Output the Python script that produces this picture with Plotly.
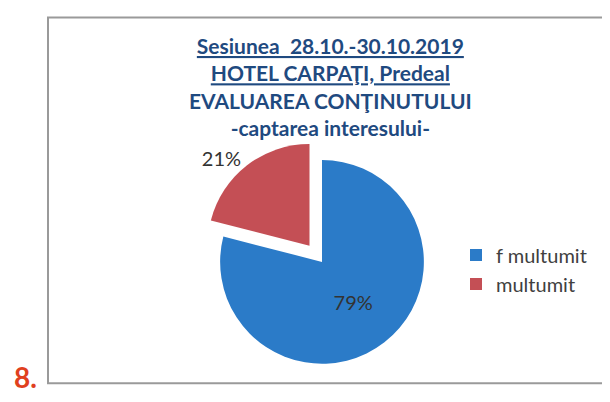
import plotly.graph_objects as go

labels = ["f multumit", "multumit"]
values = [79, 21]
colors = ["#2B7BC8", "#C44F55"]
pulls = [0, 0.2]
text_positions = ["inside", "outside"]

title_lines = [
    "<u>Sesiunea  28.10.-30.10.2019</u>",
    "<u>HOTEL CARPAŢI, Predeal</u>",
    "EVALUAREA CONŢINUTULUI",
    "-captarea interesului-",
]

W, H = 610, 402

fig = go.Figure()
fig.add_trace(go.Pie(
    labels=labels,
    values=values,
    sort=False,
    direction="clockwise",
    rotation=0,
    pull=pulls,
    marker=dict(colors=colors, line=dict(width=0)),
    textinfo="percent",
    textposition=text_positions,
    insidetextorientation="horizontal",
    textfont=dict(family="Lato", size=20, color="#333333"),
    domain=dict(x=[180 / W, 448 / W], y=[2 / H, 262 / H]),
    showlegend=True,
))

fig.add_annotation(
    text="<b>" + "<br>".join(title_lines) + "</b>",
    xref="paper", yref="paper", x=322 / W, y=(H - 84) / H,
    xanchor="center", yanchor="middle", showarrow=False,
    font=dict(family="Lato", size=21, color="#1F4A80"),
    align="center",
)

fig.add_annotation(
    text="<b>8.</b>",
    xref="paper", yref="paper", x=4 / W, y=(H - 392) / H,
    xanchor="left", yanchor="middle", showarrow=False,
    font=dict(family="Lato", size=28, color="#E0401E"),
)

fig.add_shape(
    type="rect", xref="paper", yref="paper",
    x0=40 / W, x1=1.02, y0=(H - 399) / H, y1=(H - 10) / H,
    line=dict(color="#9A9A9A", width=2), fillcolor="rgba(0,0,0,0)",
)

fig.update_layout(
    width=W, height=H,
    margin=dict(l=0, r=0, t=0, b=0),
    paper_bgcolor="white", plot_bgcolor="white",
    legend=dict(
        x=448 / W, y=(H - 242) / H, xanchor="left", yanchor="top",
        font=dict(family="Lato", size=20, color="#404040"),
        bgcolor="rgba(0,0,0,0)", tracegroupgap=0,
    ),
)

fig.write_html("out.html")
